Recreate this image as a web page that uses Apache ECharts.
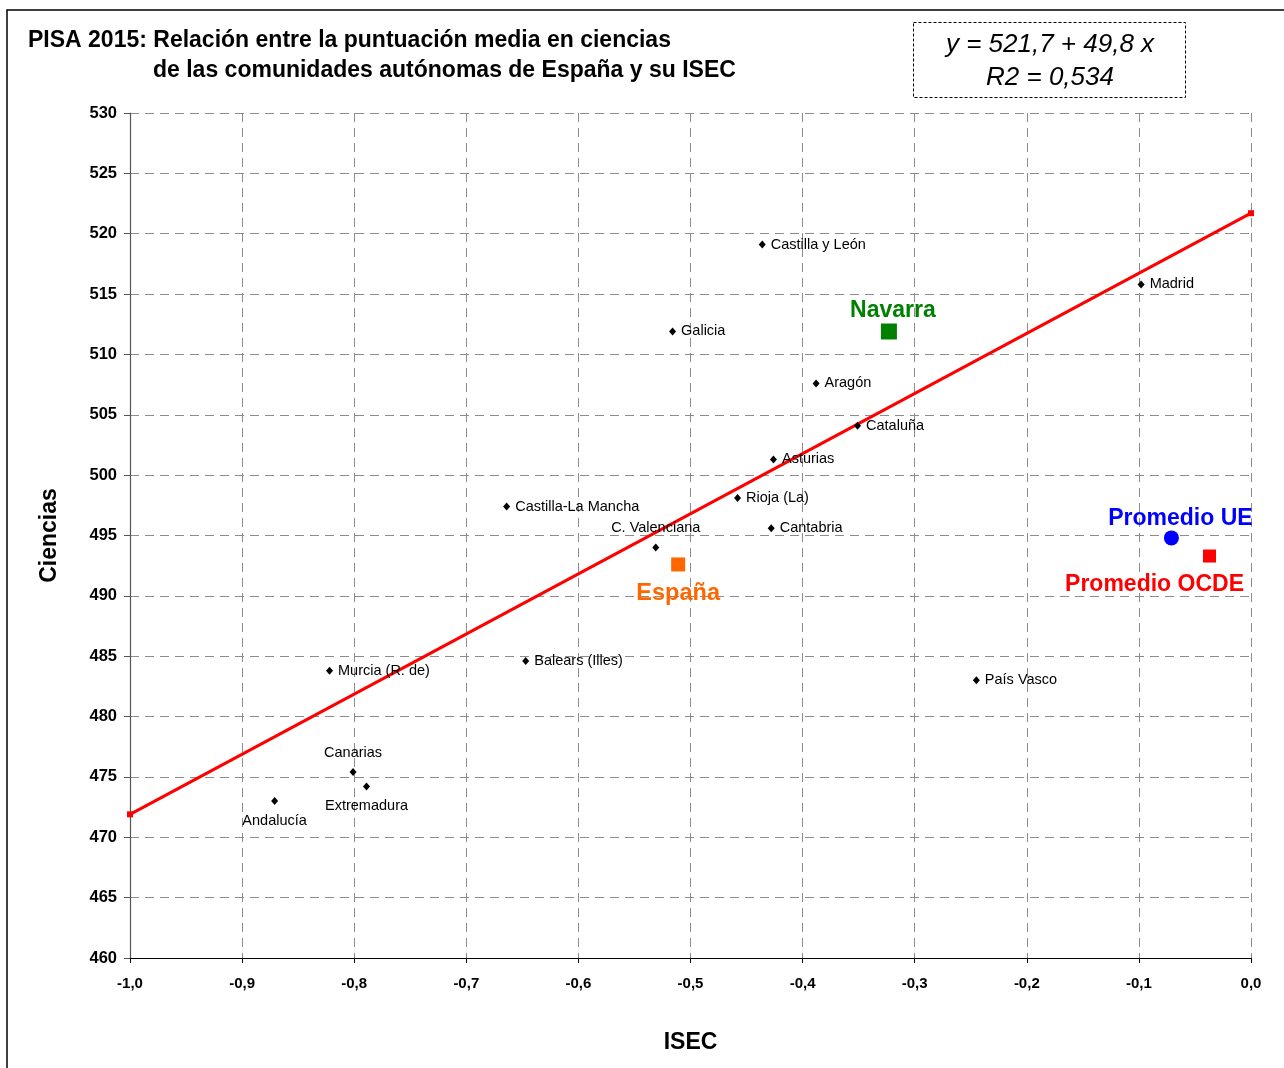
<!DOCTYPE html>
<html>
<head>
<meta charset="utf-8">
<script src="https://cdn.jsdelivr.net/npm/echarts@6/dist/echarts.min.js"></script>
<style>html,body{margin:0;padding:0;background:#fff}#c{width:1284px;height:1068px}</style>
</head>
<body>
<div id="c"></div>
<script>
// ---- Data ----
var regionNames = ['Castilla y León','Madrid','Galicia','Aragón','Cataluña','Asturias','Rioja (La)','Cantabria','Castilla-La Mancha','C. Valenciana','Murcia (R. de)','Balears (Illes)','País Vasco','Canarias','Extremadura','Andalucía'];
var regionISEC = [-0.436,-0.098,-0.516,-0.388,-0.351,-0.426,-0.458,-0.428,-0.664,-0.531,-0.822,-0.647,-0.245,-0.801,-0.789,-0.871];
var regionCiencias = [519.1,515.8,511.9,507.6,504.1,501.3,498.1,495.6,497.4,494.0,483.8,484.6,483.0,475.4,474.2,473.0];
var espana = [-0.511, 492.6];
var navarra = [-0.323, 511.9];
var promedioUE = [-0.071, 494.8];
var promedioOCDE = [-0.037, 493.3];
var regIntercept = 521.7, regSlope = 49.8;
var xTicksMin = -1.0, xTicksMax = 0.0, xStep = 0.1;
var yTicksMin = 460, yTicksMax = 530, yStep = 5;

// label placement per region (style)
var labelPlace = {'Canarias':'top','Extremadura':'bottom','Andalucía':'bottom','C. Valenciana':'top'};

var FONT = '"Liberation Sans", Arial, sans-serif';
var chart = echarts.init(document.getElementById('c'), null, {renderer:'canvas'});

var regionData = regionNames.map(function(n,i){
  var pos = labelPlace[n] || 'right';
  return {name:n, value:[regionISEC[i], regionCiencias[i]],
    label:{position:pos, distance: pos==='right'?5:8}};
});

function fmt(v){ return v.toFixed(1).replace('.', ','); }

var option = {
  backgroundColor:'#fff',
  animation:false,
  title:[
    {text:'PISA 2015: Relación entre la puntuación media en ciencias', left:23, top:24,
     textStyle:{fontFamily:FONT, fontSize:23, fontWeight:'bold', color:'#000'}},
    {text:'de las comunidades autónomas de España y su ISEC', left:148, top:54,
     textStyle:{fontFamily:FONT, fontSize:23, fontWeight:'bold', color:'#000'}}
  ],
  graphic:[
    {type:'rect', shape:{x:7, y:10, width:1300, height:1100}, style:{fill:'none', stroke:'#000', lineWidth:1.5}, silent:true, z:-1},
    {type:'rect', shape:{x:913.5, y:22.5, width:272, height:75}, style:{fill:'#fff', stroke:'#000', lineWidth:1, lineDash:[3,2]}},
    {type:'text', x:1050, y:45, style:{text:'y = 521,7 + 49,8 x', fontFamily:FONT, fontSize:26, fontStyle:'italic', fill:'#000', align:'center', verticalAlign:'middle'}},
    {type:'text', x:1050, y:78, style:{text:'R2 = 0,534', fontFamily:FONT, fontSize:26, fontStyle:'italic', fill:'#000', align:'center', verticalAlign:'middle'}}
  ],
  grid:{left:130, right:33, top:113, bottom:110, containLabel:false},
  xAxis:{
    type:'value', min:xTicksMin, max:xTicksMax, interval:xStep,
    name:'ISEC', nameLocation:'middle', nameGap:73,
    nameTextStyle:{fontFamily:FONT, fontSize:23, fontWeight:'bold', color:'#000'},
    axisLine:{show:true, onZero:false, lineStyle:{color:'#000', width:1.2}},
    axisTick:{show:true, inside:false, length:5, lineStyle:{color:'#000'}},
    axisLabel:{fontFamily:FONT, fontSize:15, fontWeight:'bold', color:'#000', margin:18, formatter:fmt},
    splitLine:{show:true, lineStyle:{color:'#8c8c8c', type:[9,6], width:1}}
  },
  yAxis:{
    type:'value', min:yTicksMin, max:yTicksMax, interval:yStep,
    name:'Ciencias', nameLocation:'middle', nameGap:69, nameRotate:90,
    nameTextStyle:{fontFamily:FONT, fontSize:23, fontWeight:'bold', color:'#000'},
    axisLine:{show:true, onZero:false, lineStyle:{color:'#555', width:1.2}},
    axisTick:{show:true, length:6, lineStyle:{color:'#555'}},
    axisLabel:{fontFamily:FONT, fontSize:16.5, fontWeight:'bold', color:'#000', margin:13},
    splitLine:{show:true, lineStyle:{color:'#8c8c8c', type:[9,6], width:1}}
  },
  series:[
    {
      type:'line', name:'Regresión',
      data:[[xTicksMin, regIntercept + regSlope*xTicksMin],[xTicksMax, regIntercept + regSlope*xTicksMax]],
      lineStyle:{color:'#ff0000', width:3}, itemStyle:{color:'#ff0000'},
      symbol:'rect', symbolSize:6, showSymbol:true, z:3
    },
    {
      type:'scatter', name:'CCAA', data:regionData,
      symbol:'diamond', symbolSize:[7,8], itemStyle:{color:'#000', opacity:1},
      label:{show:true, formatter:'{b}', fontFamily:FONT, fontSize:14.5, color:'#000'},
      z:4
    },
    {
      type:'scatter', name:'España', data:[{name:'España', value:espana}],
      symbol:'rect', symbolSize:14, itemStyle:{color:'#ff6600', opacity:1},
      label:{show:true, position:'bottom', distance:10, formatter:'{b}', fontFamily:FONT, fontSize:23.5, fontWeight:'bold', color:'#ff6600'}, z:5
    },
    {
      type:'scatter', name:'Navarra', data:[{name:'Navarra', value:navarra}],
      symbol:'rect', symbolSize:16, itemStyle:{color:'#008000', opacity:1},
      label:{show:true, position:'top', distance:1, offset:[4,0], formatter:'{b}', fontFamily:FONT, fontSize:23, fontWeight:'bold', color:'#008000'}, z:5
    },
    {
      type:'scatter', name:'Promedio UE', data:[{name:'Promedio UE', value:promedioUE}],
      symbol:'circle', symbolSize:15, itemStyle:{color:'#0000ff', opacity:1},
      label:{show:true, position:'top', distance:0, offset:[9,0], formatter:'{b}', fontFamily:FONT, fontSize:23, fontWeight:'bold', color:'#0000ff'}, z:5
    },
    {
      type:'scatter', name:'Promedio OCDE', data:[{name:'Promedio OCDE', value:promedioOCDE}],
      symbol:'rect', symbolSize:13, itemStyle:{color:'#ff0000', opacity:1},
      label:{show:true, position:'bottom', distance:11, offset:[-55,0], formatter:'{b}', fontFamily:FONT, fontSize:23, fontWeight:'bold', color:'#ff0000'}, z:5
    }
  ]
};
chart.setOption(option);
</script>
</body>
</html>
